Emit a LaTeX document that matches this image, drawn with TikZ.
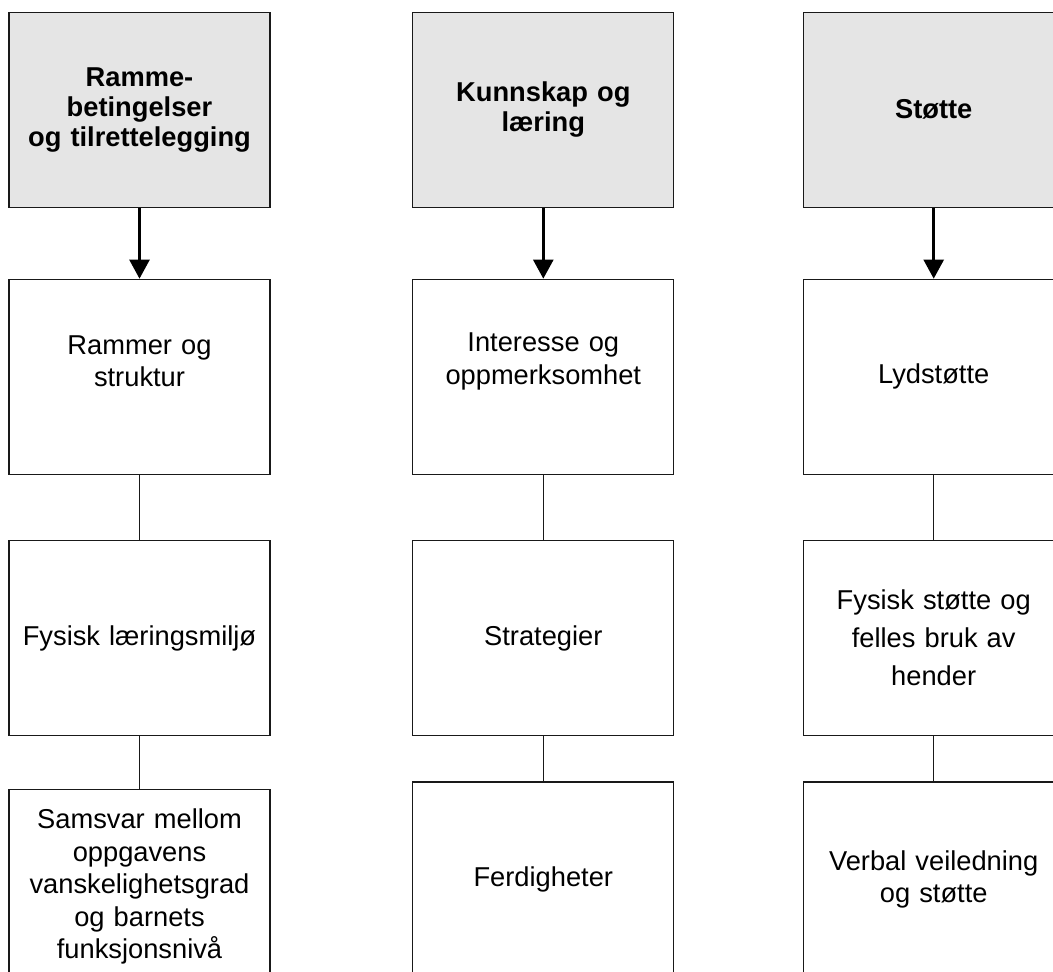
\documentclass[tikz,border=0pt]{standalone}
\usepackage{fontspec}
\setmainfont{Liberation Sans}
\usetikzlibrary{positioning, arrows.meta}
\tikzstyle{boks} = [
    rectangle,
    minimum width=6.525cm,
    minimum height=4.875cm,
    inner sep=0pt,
    text width=6.3cm,
    align=center,
    draw=black!90,
    line width=0.8pt,
    font=\fontsize{19.4}{23.1}\selectfont
]
\tikzstyle{hode} = [
    boks,
    fill=black!10,
    font=\fontsize{19.4}{21.2}\selectfont\bfseries
]
\tikzstyle{pil} = [
    line width=2.2pt,
    -{Triangle[width=0.5cm, length=0.48cm]}
]
\tikzstyle{strek} = [
    line width=0.8pt,
    draw=black!90
]
% luft under teksten, skyver den oppover i boksen
\newcommand{\luft}[1]{\par\vspace{#1}\hrule height 0pt}

\begin{document}
\begin{tikzpicture}[x=0.025cm, y=-0.025cm]
        \path[use as bounding box] (0,0) rectangle (1053,972);
        \clip (0,0) rectangle (1053,972);
        \fill[white] (0,0) rectangle (1053,972);

        % overskrifter
        \node (ramme) [hode] at (139.5,109.8) {Ramme-\\betingelser\\og tilrettelegging};
        \node (kunnskap) [hode] at (543.3,109.8) {Kunnskap og\\læring};
        \node (stotte) [hode] at (933.7,109.8) {Støtte};

        % første kolonne
        \node (rammer) [boks, below=1.77cm of ramme] {Rammer og\\struktur\luft{22pt}};
        \node (fysisk) [boks, below=1.63cm of rammer] {Fysisk læringsmiljø};
        \node (samsvar) [boks, below=1.31cm of fysisk]
            {Samsvar mellom\\oppgavens\\vanskelighetsgrad\\og barnets\\funksjonsnivå};

        % andre kolonne
        \node (interesse) [boks, below=1.77cm of kunnskap] {Interesse og\\oppmerksomhet\luft{22pt}};
        \node (strategier) [boks, below=1.63cm of interesse] {Strategier};
        \node (ferdigheter) [boks, below=1.13cm of strategier] {Ferdigheter};

        % tredje kolonne
        \node (lyd) [boks, below=1.77cm of stotte] {Lydstøtte};
        \node (hender) [boks, below=1.63cm of lyd, font=\fontsize{19.4}{27}\selectfont]
            {Fysisk støtte og\\felles bruk av\\hender};
        \node (verbal) [boks, below=1.13cm of hender] {Verbal veiledning\\og støtte};

        \draw[pil] (ramme) -- (rammer);
        \draw[pil] (kunnskap) -- (interesse);
        \draw[pil] (stotte) -- (lyd);

        \draw[strek] (rammer) -- (fysisk);
        \draw[strek] (fysisk) -- (samsvar);
        \draw[strek] (interesse) -- (strategier);
        \draw[strek] (strategier) -- (ferdigheter);
        \draw[strek] (lyd) -- (hender);
        \draw[strek] (hender) -- (verbal);
    \end{tikzpicture}
\end{document}
